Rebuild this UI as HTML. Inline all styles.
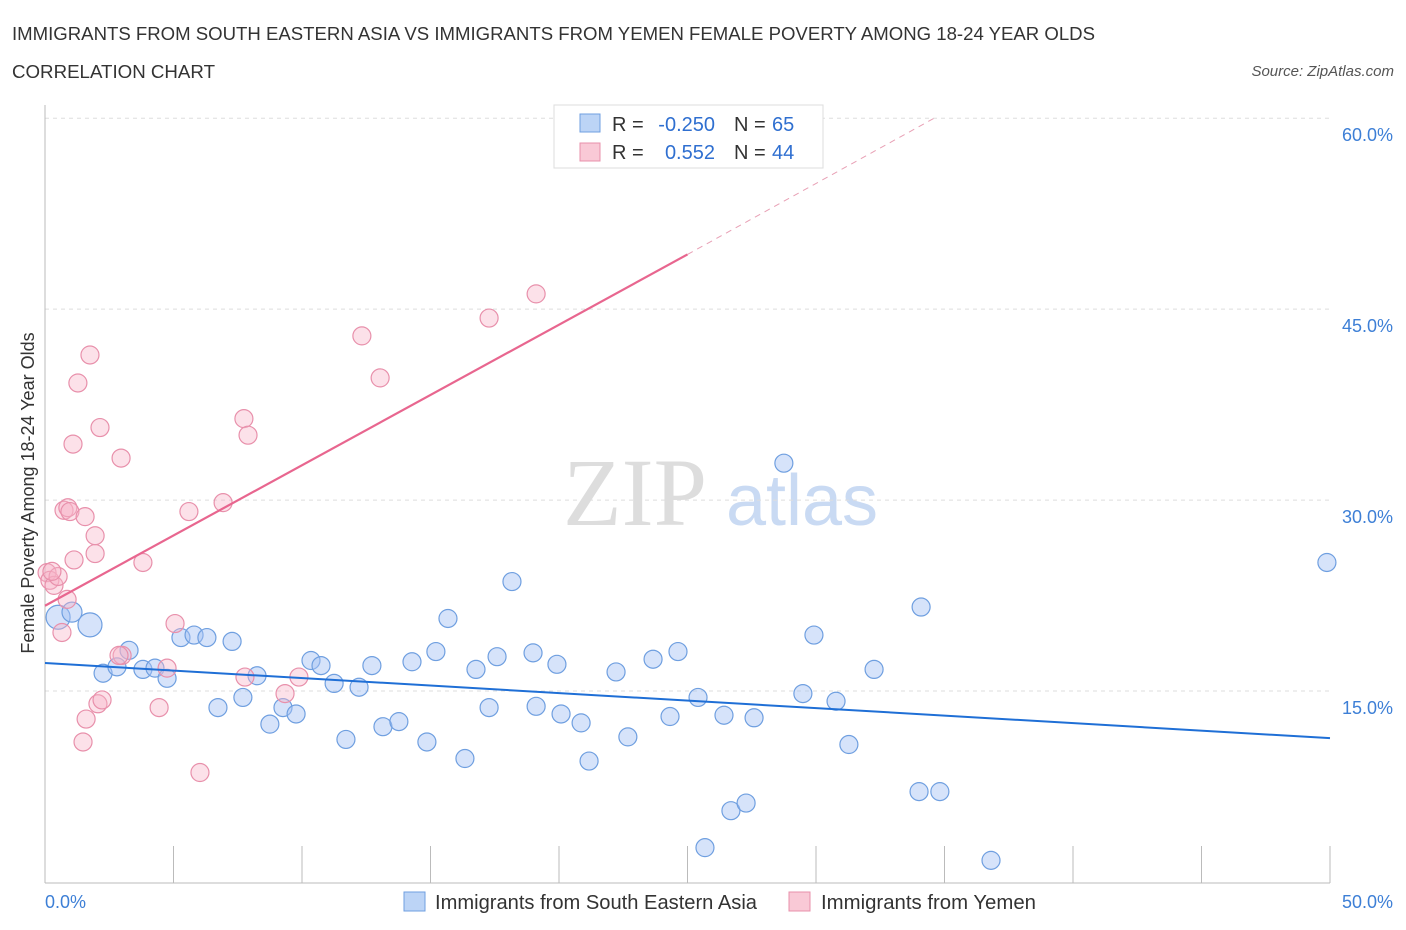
<!DOCTYPE html>
<html><head><meta charset="utf-8"><style>
body{margin:0;background:#fff;font-family:"Liberation Sans",sans-serif;}
svg{display:block}
</style></head><body>
<svg id="c" width="1406" height="930">
<text x="12" y="40" font-size="18" fill="#333" textLength="1083" lengthAdjust="spacingAndGlyphs">IMMIGRANTS FROM SOUTH EASTERN ASIA VS IMMIGRANTS FROM YEMEN FEMALE POVERTY AMONG 18-24 YEAR OLDS</text>
<text x="12" y="78" font-size="18" fill="#333" textLength="203" lengthAdjust="spacingAndGlyphs">CORRELATION CHART</text>
<text x="1394" y="76" font-size="15" fill="#555" font-style="italic" text-anchor="end">Source: ZipAtlas.com</text>
<text x="635" y="525" font-size="96" fill="#ddd" font-family="Liberation Serif" text-anchor="middle">ZIP</text>
<text x="802" y="525" font-size="72" fill="#c9daf3" text-anchor="middle">atlas</text>
<g id="grid"></g><g id="pts"></g><g id="lines"></g>
<text transform="translate(34,493) rotate(-90)" font-size="18" fill="#333" text-anchor="middle">Female Poverty Among 18-24 Year Olds</text>
<g>
<rect x="554" y="105" width="269" height="63" fill="#fff" stroke="#ddd"/>
<rect x="580" y="114" width="20" height="18" fill="#bcd4f6" stroke="#6f9fe0"/>
<rect x="580" y="143" width="20" height="18" fill="#f9c9d6" stroke="#e890ab"/>
<text x="612" y="131" font-size="20" fill="#333">R =</text>
<text x="715" y="131" font-size="20" fill="#2f6fd0" text-anchor="end">-0.250</text>
<text x="734" y="131" font-size="20" fill="#333">N =</text>
<text x="772" y="131" font-size="20" fill="#2f6fd0">65</text>
<text x="612" y="159" font-size="20" fill="#333">R =</text>
<text x="715" y="159" font-size="20" fill="#2f6fd0" text-anchor="end">0.552</text>
<text x="734" y="159" font-size="20" fill="#333">N =</text>
<text x="772" y="159" font-size="20" fill="#2f6fd0">44</text>
</g>
<g>
<rect x="404" y="892" width="21" height="19" fill="#bcd4f6" stroke="#6f9fe0"/>
<text x="435" y="909" font-size="20" fill="#333" textLength="322" lengthAdjust="spacingAndGlyphs">Immigrants from South Eastern Asia</text>
<rect x="789" y="892" width="21" height="19" fill="#f9c9d6" stroke="#e890ab"/>
<text x="821" y="909" font-size="20" fill="#333" textLength="215" lengthAdjust="spacingAndGlyphs">Immigrants from Yemen</text>
</g>
</svg>
<script>
const yTicks=[15,30,45,60];
const xTickLabels=["0.0%","50.0%"];
const blueX=[0.51,1.05,1.75,2.26,2.80,3.27,3.81,4.28,4.75,5.29,5.80,6.30,6.73,7.28,7.70,8.25,8.75,9.26,9.77,10.35,10.74,11.25,11.71,12.22,12.72,13.15,13.77,14.28,14.86,15.21,15.68,16.34,16.77,17.28,17.59,18.17,18.99,19.11,19.92,20.08,20.86,21.17,22.22,22.68,23.66,24.32,24.63,25.41,25.68,26.42,26.69,27.28,27.59,28.75,29.49,29.92,30.78,31.28,32.26,34.01,34.09,34.82,36.81,49.88];
const blueY=[20.8,21.2,20.2,16.4,16.9,18.2,16.7,16.8,16.0,19.2,19.4,19.2,13.7,18.9,14.5,16.2,12.4,13.7,13.2,17.4,17.0,15.6,11.2,15.3,17.0,12.2,12.6,17.3,11.0,18.1,20.7,9.7,16.7,13.7,17.7,23.6,18.0,13.8,17.1,13.2,12.5,9.5,16.5,11.4,17.5,13.0,18.1,14.5,2.7,13.1,5.6,6.2,12.9,32.9,14.8,19.4,14.2,10.8,16.7,7.1,21.6,7.1,1.7,25.1];
const blueR=[12,10,12,9,9,9,9,9,9,9,9,9,9,9,9,9,9,9,9,9,9,9,9,9,9,9,9,9,9,9,9,9,9,9,9,9,9,9,9,9,9,9,9,9,9,9,9,9,9,9,9,9,9,9,9,9,9,9,9,9,9,9,9,9];
const pinkX=[0.08,0.19,0.35,0.51,0.66,0.74,0.89,0.97,1.09,1.13,1.28,1.48,1.56,1.60,1.75,1.95,1.95,2.06,2.14,2.22,2.96,3.00,3.81,4.44,4.75,5.06,5.60,6.03,6.93,7.74,7.78,7.90,9.34,9.88,12.33,13.04,17.28,19.11,21.98,0.86,0.27,2.88];
const pinkY=[24.3,23.7,23.3,24.0,19.6,29.2,29.4,29.1,34.4,25.3,39.2,11.0,28.7,12.8,41.4,27.2,25.8,14.0,35.7,14.3,33.3,17.8,25.1,13.7,16.8,20.3,29.1,8.6,29.8,36.4,16.1,35.1,14.8,16.1,42.9,39.6,44.3,46.2,58.7,22.2,24.4,17.8];
const blueTrend=[[0,17.2],[50,11.3]];
const pinkTrend=[[0,21.7],[25,49.3]];
const pinkDash=[[25,49.3],[34.6,60]];
const sx=v=>45+v*25.7, sy=v=>882-v*12.73;
const NS="http://www.w3.org/2000/svg";
function mk(t,a,p){const e=document.createElementNS(NS,t);for(const k in a)e.setAttribute(k,a[k]);p.appendChild(e);return e;}
const g=document.getElementById('grid');
yTicks.forEach(t=>{const l=mk('line',{x1:45,x2:1330,y1:sy(t),y2:sy(t),stroke:'#ddd','stroke-dasharray':'4,4'},g);


const tx=mk('text',{x:1393,y:sy(t)+23,'font-size':18,fill:'#3d7fd6','text-anchor':'end'},g);tx.textContent=t.toFixed(1)+'%';

});
mk('line',{x1:45,x2:45,y1:105,y2:883,stroke:'#bbb'},g);
mk('line',{x1:45,x2:1330,y1:883,y2:883,stroke:'#bbb'},g);
for(let i=0;i<=10;i++){mk('line',{x1:sx(i*5),x2:sx(i*5),y1:846,y2:883,stroke:'#bbb'},g);}
xTickLabels.forEach((s,i)=>{const tx=mk('text',{x:i?1393:45,y:908,'font-size':18,fill:'#3d7fd6','text-anchor':i?'end':'start'},g);tx.textContent=s;

});
const p=document.getElementById('pts');
blueX.forEach((x,i)=>{const c=mk('circle',{cx:sx(x),cy:sy(blueY[i]),r:blueR[i],fill:'rgba(164,194,244,0.45)',stroke:'#6f9fe0','stroke-width':1.2},p);

});
pinkX.forEach((x,i)=>{const c=mk('circle',{cx:sx(x),cy:sy(pinkY[i]),r:9,fill:'rgba(248,180,200,0.4)',stroke:'#e890ab','stroke-width':1.2},p);

});
const L=document.getElementById('lines');
function ln(a,st,w,d,n){const e=mk('line',{x1:sx(a[0][0]),y1:sy(a[0][1]),x2:sx(a[1][0]),y2:sy(a[1][1]),stroke:st,'stroke-width':w},L);if(d)e.setAttribute('stroke-dasharray',d);

}
ln(blueTrend,'#1f6fd6',2,null,'trend-line-sea');
ln(pinkTrend,'#e8668f',2.2,null,'trend-line-yemen');
ln(pinkDash,'#e8a0b5',1,'6,5','trend-line-yemen-extension');
</script>
</body></html>
